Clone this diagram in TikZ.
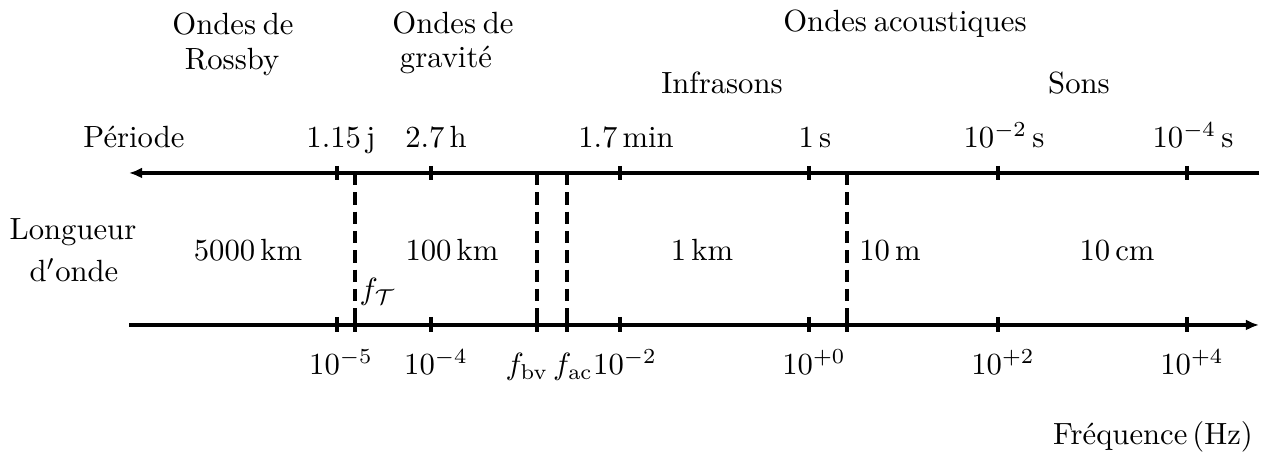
\documentclass[tikz,border=0pt]{standalone}
\usetikzlibrary{arrows.meta}
\newcommand{\wsp}{\hspace{2.2pt}}
\begin{document}
\begin{tikzpicture}[x=0.326pt,y=-0.326pt,
  axis/.style={line width=1pt},
  tck/.style={line width=1pt},
  cut/.style={line width=1pt, dash pattern=on 4pt off 2.3pt},
  tip/.style={-{Latex[length=4.3pt,width=3.6pt]}},
  lbl/.style={anchor=base, inner sep=0pt}]
\useasboundingbox (0,0) rectangle (1261,456);
% axes
\coordinate (pR) at (1259,173); \coordinate (pL) at (129,173);
\coordinate (fL) at (129,325); \coordinate (fR) at (1259,325);
\draw[axis,tip] (pR) -- (pL);
\draw[axis,tip] (fL) -- (fR);
% decade ticks
\foreach \x in {337,431,620,809,998,1187}{
  \draw[tck] (\x,166) -- (\x,180);
  \draw[tck] (\x,317) -- (\x,332);
}
% characteristic frequencies
\foreach \x in {355,537,567,847}{
  \draw[cut] (\x,173) -- (\x,325);
  \draw[tck] (\x,317) -- (\x,332);
}
% top titles
\node[lbl] (r1) at (233,35) {Ondes\wsp de};
\node[lbl] (r2) at (232,70) {Rossby};
\node[lbl] (g1) at (453,34) {Ondes\wsp de};
\node[lbl] (g2) at (446,68) {gravité};
\node[lbl] (ac) at (905,32) {Ondes\wsp acoustiques};
\node[lbl] (inf) at (722,94) {Infrasons};
\node[lbl] (sons) at (1079,94) {Sons};
% periods
\node[lbl] (per) at (134,148) {Période};
\node[lbl] (p1) at (341,148) {1.15\,j};
\node[lbl] (p2) at (436,148) {2.7\,h};
\node[lbl] (p3) at (626,148) {1.7\,min};
\node[lbl] (p4) at (815,148) {1\,s};
\node[lbl] (p5) at (1004,148) {$10^{-2}$\,s};
\node[lbl] (p6) at (1193,148) {$10^{-4}$\,s};
% wavelengths
\node[lbl] (lo1) at (73,240) {Longueur};
\node[lbl] (lo2) at (74,282) {d$'$onde};
\node[lbl] (w1) at (248,261) {5000\,km};
\node[lbl] (w2) at (452,261) {100\,km};
\node[lbl] (w3) at (702,261) {1\,km};
\node[lbl] (w4) at (890,261) {10\,m};
\node[lbl] (w5) at (1117,261) {10\,cm};
\node[lbl,anchor=base west] (ft) at (359,300) {$f_{\mathcal{T}}$};
% frequencies
\node[lbl] (f1) at (341,375) {$10^{-5}$};
\node[lbl] (f2) at (436,375) {$10^{-4}$};
\node[lbl] (fbv) at (527,375) {$f_{\mathrm{bv}}$};
\node[lbl] (fac) at (573,375) {$f_{\mathrm{ac}}$};
\node[lbl] (f3) at (625,375) {$10^{-2}$};
\node[lbl] (f4) at (814,375) {$10^{+0}$};
\node[lbl] (f5) at (1003,375) {$10^{+2}$};
\node[lbl] (f6) at (1192,375) {$10^{+4}$};
\node[lbl] (freq) at (1153,445) {Fréquence\hspace{1.6pt}(Hz)};
\end{tikzpicture}
\end{document}
